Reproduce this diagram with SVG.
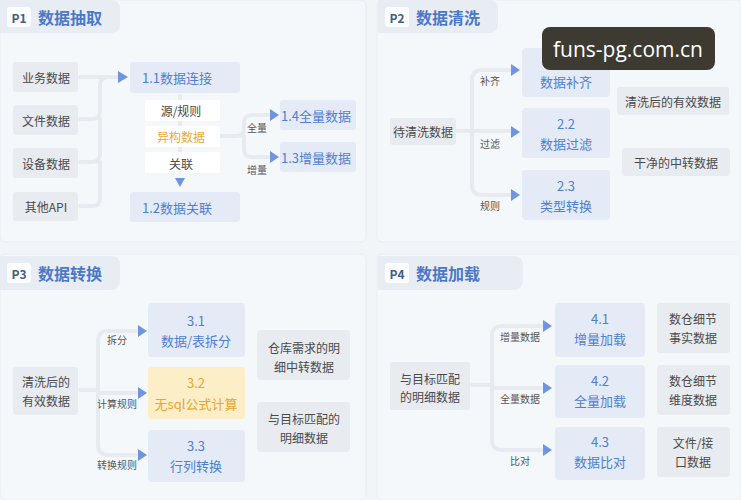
<svg xmlns="http://www.w3.org/2000/svg" width="741" height="500" viewBox="0 0 741 500">
<style>
text{font-family:"Noto Sans CJK SC","Noto Sans",sans-serif;text-anchor:middle;dominant-baseline:central}
.panel{fill:#f5f8fb;stroke:#e9eef3;stroke-width:1}
.tab{fill:#e8edf4}
.pbox{fill:#fbfcfe}
.ptxt{font-size:12px;font-weight:bold;fill:#4a5d80}
.ttl{font-size:16px;font-weight:bold;fill:#4a78c8;text-anchor:start}
.g{fill:#e8ebf0}
.b{fill:#e4ebf6}
.y{fill:#fcefc8}
.w{fill:#ffffff}
.t{font-size:12px;fill:#4a4a4a}
.bt{font-size:13px;fill:#4f7fd0}
.ot{font-size:13px;fill:#e8a530}
.lab{font-size:10px;fill:#555}
.ln{fill:none;stroke:#e7ebf0;stroke-width:4;stroke-linecap:round;stroke-linejoin:round}
.ar{fill:#6f95de}
</style>
<rect width="741" height="500" fill="#f1f5f8"/>
<g id="panels">
<rect class="panel" x="0" y="0" width="366" height="242" rx="6"/>
<rect class="panel" x="377" y="0" width="364" height="242" rx="6"/>
<rect class="panel" x="0" y="254" width="366" height="246" rx="6"/>
<rect class="panel" x="377" y="254" width="364" height="246" rx="6"/>
</g>
<g id="titles">
<path class="tab" d="M0 0H112Q120 0 120 10V24Q120 33 110 33H0Z"/>
<rect class="pbox" x="7" y="7" width="24" height="20" rx="3"/>
<text class="ptxt" x="19" y="17">P1</text>
<text class="ttl" x="38" y="17">数据抽取</text>
<path class="tab" d="M378 0H490Q498 0 498 10V24Q498 33 488 33H378Z"/>
<rect class="pbox" x="385" y="7" width="24" height="20" rx="3"/>
<text class="ptxt" x="397" y="17">P2</text>
<text class="ttl" x="416" y="17">数据清洗</text>
<path class="tab" d="M0 256H112Q120 256 120 266V280Q120 290 110 290H0Z"/>
<rect class="pbox" x="7" y="263" width="24" height="20" rx="3"/>
<text class="ptxt" x="19" y="273">P3</text>
<text class="ttl" x="38" y="273">数据转换</text>
<path class="tab" d="M378 256H515Q523 256 523 266V280Q523 290 513 290H378Z"/>
<rect class="pbox" x="385" y="263" width="24" height="20" rx="3"/>
<text class="ptxt" x="397" y="273">P4</text>
<text class="ttl" x="416" y="273">数据加载</text>
</g>
<g id="connectors">
<path class="ln" d="M80 77H118M80 119H92Q100 119 100 111V85Q100 77 108 77M80 162H92Q100 162 100 154V119M80 206H92Q100 206 100 198V162"/>
<path class="ln" d="M180 96V100M180 121V125M180 147V151"/>
<path class="ln" d="M216 136H236Q244 136 244 128V123Q244 115 252 115H268M244 136V149Q244 157 252 157H268"/>
<path class="ln" d="M457 131H472M472 131V80Q472 70 482 70H510M472 131H510M472 131V185Q472 195 482 195H510"/>
<path class="ln" d="M80 390H98M98 390V341Q98 331 108 331H136M98 390V393H136M98 390V445Q98 455 108 455H136"/>
<path class="ln" d="M472 385H492M492 385V336Q492 326 502 326H541M492 385V388H541M492 385V440Q492 450 502 450H541"/>
<polygon class="ar" points="118,71 128,77 118,83"/>
<polygon class="ar" points="175,178 185,178 180,187"/>
<polygon class="ar" points="270,109 279,115 270,121"/>
<polygon class="ar" points="270,151 279,157 270,163"/>
<polygon class="ar" points="511,64 520,70 511,76"/>
<polygon class="ar" points="511,126 520,132 511,138"/>
<polygon class="ar" points="511,189 520,195 511,201"/>
<polygon class="ar" points="138,325 147,331 138,337"/>
<polygon class="ar" points="138,387 147,393 138,399"/>
<polygon class="ar" points="138,449 147,455 138,461"/>
<polygon class="ar" points="543,320 552,326 543,332"/>
<polygon class="ar" points="543,382 552,388 543,394"/>
<polygon class="ar" points="543,444 552,450 543,456"/>
</g>
<g id="labels">
<text class="lab" x="257" y="127">全量</text>
<text class="lab" x="257" y="169">增量</text>
<text class="lab" x="490" y="80">补齐</text>
<text class="lab" x="490" y="143">过滤</text>
<text class="lab" x="490" y="205">规则</text>
<text class="lab" x="117" y="339">拆分</text>
<text class="lab" x="117" y="403">计算规则</text>
<text class="lab" x="117" y="464">转换规则</text>
<text class="lab" x="520" y="336">增量数据</text>
<text class="lab" x="520" y="398">全量数据</text>
<text class="lab" x="520" y="460">比对</text>
</g>
<g id="n-yewu"><rect class="g" x="13" y="62" width="65" height="30" rx="3"/><text class="t" x="46" y="77">业务数据</text></g>
<g id="n-wenjian"><rect class="g" x="13" y="105" width="65" height="30" rx="3"/><text class="t" x="46" y="120">文件数据</text></g>
<g id="n-shebei"><rect class="g" x="13" y="148" width="65" height="30" rx="3"/><text class="t" x="46" y="163">设备数据</text></g>
<g id="n-api"><rect class="g" x="13" y="192" width="65" height="29" rx="3"/><text class="t" x="46" y="206">其他API</text></g>
<g id="n-11"><rect class="b" x="130" y="62" width="110" height="31" rx="3"/><text class="bt" x="177" y="77">1.1数据连接</text></g>
<g id="n-yuan"><rect class="w" x="145" y="100" width="75" height="21" rx="2"/><text class="t" x="181" y="110">源/规则</text></g>
<g id="n-yigou"><rect class="w" x="145" y="126" width="75" height="21" rx="2"/><text class="t" x="181" y="136" style="fill:#eaa935">异构数据</text></g>
<g id="n-guanlian"><rect class="w" x="145" y="152" width="75" height="21" rx="2"/><text class="t" x="181" y="163">关联</text></g>
<g id="n-12"><rect class="b" x="130" y="192" width="110" height="30" rx="3"/><text class="bt" x="177" y="207">1.2数据关联</text></g>
<g id="n-14"><rect class="b" x="280" y="100" width="76" height="30" rx="3"/><text class="bt" x="316" y="115">1.4全量数据</text></g>
<g id="n-13"><rect class="b" x="280" y="142" width="76" height="30" rx="3"/><text class="bt" x="316" y="157">1.3增量数据</text></g>
<g id="n-dai"><rect class="g" x="390" y="118" width="66" height="27" rx="3"/><text class="t" x="423" y="131">待清洗数据</text></g>
<g id="n-21"><rect class="b" x="522" y="48" width="88" height="49" rx="4"/><text class="bt" x="566" y="62">2.1</text><text class="bt" x="566" y="81">数据补齐</text></g>
<g id="n-22"><rect class="b" x="522" y="108" width="88" height="50" rx="4"/><text class="bt" x="566" y="123">2.2</text><text class="bt" x="566" y="143">数据过滤</text></g>
<g id="n-23"><rect class="b" x="522" y="170" width="88" height="50" rx="4"/><text class="bt" x="566" y="185">2.3</text><text class="bt" x="566" y="205">类型转换</text></g>
<g id="n-qingxi"><rect class="g" x="617" y="87" width="112" height="28" rx="3"/><text class="t" x="673" y="101">清洗后的有效数据</text></g>
<g id="n-ganjing"><rect class="g" x="622" y="148" width="108" height="28" rx="3"/><text class="t" x="676" y="162">干净的中转数据</text></g>
<g id="n-youxiao"><rect class="g" x="13" y="367" width="65" height="48" rx="3"/><text class="t" x="46" y="381">清洗后的</text><text class="t" x="46" y="400">有效数据</text></g>
<g id="n-31"><rect class="b" x="148" y="303" width="97" height="54" rx="4"/><text class="bt" x="196" y="320">3.1</text><text class="bt" x="196" y="340">数据/表拆分</text></g>
<g id="n-32"><rect class="y" x="148" y="367" width="97" height="52" rx="4"/><text class="ot" x="196" y="382">3.2</text><text class="ot" x="196" y="403">无sql公式计算</text></g>
<g id="n-33"><rect class="b" x="148" y="430" width="97" height="52" rx="4"/><text class="bt" x="196" y="445">3.3</text><text class="bt" x="196" y="465">行列转换</text></g>
<g id="n-cangku"><rect class="g" x="257" y="330" width="93" height="50" rx="4"/><text class="t" x="304" y="347">仓库需求的明</text><text class="t" x="304" y="366">细中转数据</text></g>
<g id="n-pipei3"><rect class="g" x="257" y="402" width="93" height="50" rx="4"/><text class="t" x="304" y="418">与目标匹配的</text><text class="t" x="304" y="437">明细数据</text></g>
<g id="n-pipei4"><rect class="g" x="390" y="362" width="80" height="48" rx="3"/><text class="t" x="430" y="378">与目标匹配</text><text class="t" x="430" y="396">的明细数据</text></g>
<g id="n-41"><rect class="b" x="555" y="303" width="90" height="54" rx="4"/><text class="bt" x="600" y="318">4.1</text><text class="bt" x="600" y="338">增量加载</text></g>
<g id="n-42"><rect class="b" x="555" y="365" width="90" height="53" rx="4"/><text class="bt" x="600" y="380">4.2</text><text class="bt" x="600" y="400">全量加载</text></g>
<g id="n-43"><rect class="b" x="555" y="427" width="90" height="53" rx="4"/><text class="bt" x="600" y="441">4.3</text><text class="bt" x="600" y="461">数据比对</text></g>
<g id="n-shishi"><rect class="g" x="657" y="303" width="73" height="50" rx="3"/><text class="t" x="693" y="318">数仓细节</text><text class="t" x="693" y="337">事实数据</text></g>
<g id="n-weidu"><rect class="g" x="657" y="365" width="73" height="50" rx="3"/><text class="t" x="693" y="380">数仓细节</text><text class="t" x="693" y="399">维度数据</text></g>
<g id="n-jiekou"><rect class="g" x="657" y="427" width="73" height="50" rx="3"/><text class="t" x="693" y="442">文件/接</text><text class="t" x="693" y="461">口数据</text></g>
<g id="watermark"><rect x="542" y="27" width="173" height="43" rx="8" fill="#3d3a32"/><text x="628" y="49" style="font-family:'Open Sans','Noto Sans',sans-serif;font-size:21px;fill:#ffffff">funs-pg.com.cn</text></g>
</svg>
